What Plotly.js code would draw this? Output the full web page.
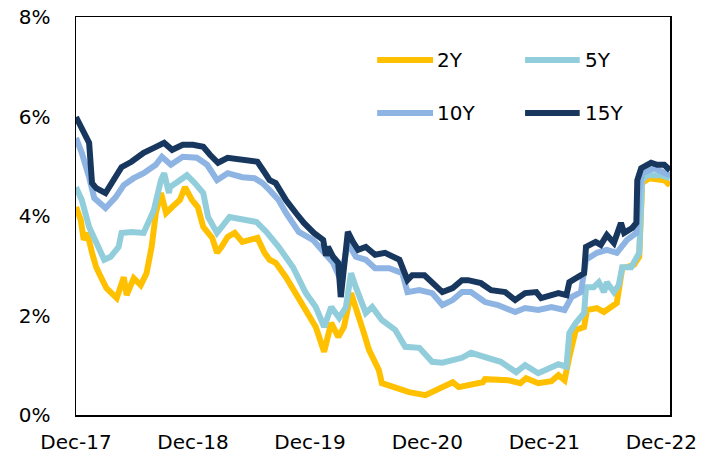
<!DOCTYPE html>
<html>
<head>
<meta charset="utf-8">
<script src="https://cdn.plot.ly/plotly-3.0.1.min.js"></script>
<style>html,body{margin:0;padding:0;background:#fff;}#chart{width:715px;height:463px;}</style>
</head>
<body>
<div id="chart"></div>
<script>
const seriesNames = ['2Y', '5Y', '10Y', '15Y'];
const seriesColors = ['#FFC000', '#92CDDC', '#8EB4E3', '#17375E'];

const tickDates = ['2017-12-01','2018-12-01','2019-12-01','2020-12-01','2021-12-01','2022-12-01'];
const tickLabels = ['Dec-17','Dec-18','Dec-19','Dec-20','Dec-21','Dec-22'];
const yTicks = [0, 2, 4, 6, 8];

const dates2Y = ['2017-12-01','2017-12-16','2017-12-25','2018-01-05','2018-01-20','2018-02-02','2018-02-17','2018-03-06','2018-04-07','2018-04-29','2018-05-08','2018-05-30','2018-06-21','2018-07-09','2018-07-25','2018-08-07','2018-08-23','2018-09-08','2018-09-27','2018-10-21','2018-11-06','2018-11-28','2018-12-16','2019-01-02','2019-01-30','2019-02-14','2019-02-28','2019-03-19','2019-04-10','2019-05-04','2019-06-20','2019-07-12','2019-07-28','2019-08-16','2019-09-17','2019-10-18','2019-11-18','2019-12-19','2020-01-14','2020-02-05','2020-02-27','2020-03-16','2020-04-07','2020-04-22','2020-05-17','2020-06-02','2020-07-03','2020-07-12','2020-08-23','2020-10-05','2020-11-25','2021-01-08','2021-02-18','2021-03-09','2021-04-07','2021-05-23','2021-05-30','2021-08-10','2021-09-17','2021-10-05','2021-11-12','2021-12-23','2022-01-14','2022-02-02','2022-02-17','2022-03-09','2022-04-04','2022-04-13','2022-05-14','2022-06-05','2022-06-27','2022-07-15','2022-08-01','2022-09-07','2022-09-23','2022-10-02','2022-10-24','2022-12-10','2022-12-28'];
const values2Y = [4.18,3.92,3.52,3.66,3.26,2.97,2.77,2.55,2.35,2.77,2.41,2.75,2.61,2.85,3.38,4.06,4.46,4.06,4.18,4.32,4.58,4.32,4.18,3.78,3.56,3.26,3.38,3.58,3.66,3.48,3.56,3.26,3.12,3.06,2.77,2.45,2.11,1.77,1.27,1.85,1.57,1.77,2.45,2.17,1.65,1.31,0.90,0.64,0.56,0.46,0.40,0.54,0.66,0.56,0.60,0.66,0.72,0.70,0.64,0.74,0.64,0.68,0.80,0.70,1.17,1.71,1.77,2.11,2.15,2.07,2.17,2.25,2.95,3.02,3.18,4.66,4.76,4.72,4.62];

const dates5Y = ['2017-12-01','2017-12-19','2018-01-11','2018-02-02','2018-02-27','2018-03-19','2018-04-13','2018-04-22','2018-05-23','2018-06-30','2018-08-01','2018-08-23','2018-09-02','2018-09-17','2018-09-20','2018-10-21','2018-11-12','2018-12-07','2019-01-02','2019-01-17','2019-02-14','2019-03-25','2019-05-04','2019-06-17','2019-07-18','2019-08-25','2019-10-09','2019-11-18','2019-12-19','2020-01-14','2020-02-05','2020-03-01','2020-03-22','2020-04-07','2020-04-22','2020-05-23','2020-06-12','2020-07-12','2020-08-23','2020-09-23','2020-11-06','2020-12-16','2021-01-17','2021-02-18','2021-03-19','2021-04-16','2021-06-08','2021-07-18','2021-09-04','2021-10-02','2021-11-12','2021-12-23','2022-01-14','2022-02-08','2022-02-17','2022-03-09','2022-04-04','2022-04-10','2022-05-04','2022-05-20','2022-06-05','2022-06-14','2022-07-06','2022-07-21','2022-08-01','2022-08-29','2022-09-23','2022-10-02','2022-10-17','2022-11-30','2022-12-28'];
const values5Y = [4.58,4.32,3.78,3.46,3.12,3.18,3.38,3.66,3.68,3.66,4.12,4.72,4.86,4.46,4.58,4.72,4.82,4.66,4.46,3.98,3.66,3.98,3.92,3.88,3.68,3.38,2.97,2.45,2.17,1.77,2.17,1.95,2.17,2.85,2.57,2.05,2.17,1.91,1.71,1.37,1.35,1.07,1.05,1.11,1.15,1.25,1.15,1.07,0.86,1.00,0.84,0.94,1.02,0.97,1.65,1.85,2.05,2.57,2.57,2.67,2.47,2.67,2.47,2.61,2.97,2.97,3.26,4.72,4.82,4.82,4.76];

const dates10Y = ['2017-12-01','2017-12-19','2018-01-11','2018-01-27','2018-03-03','2018-04-04','2018-04-29','2018-05-30','2018-06-30','2018-08-07','2018-08-26','2018-09-23','2018-10-30','2018-12-13','2019-01-14','2019-02-14','2019-03-19','2019-05-04','2019-06-11','2019-07-06','2019-07-28','2019-08-25','2019-09-17','2019-10-27','2019-12-10','2020-01-14','2020-02-11','2020-03-06','2020-03-28','2020-04-22','2020-05-23','2020-06-21','2020-08-04','2020-09-14','2020-09-30','2020-11-06','2020-12-16','2021-01-17','2021-02-18','2021-03-19','2021-04-16','2021-05-30','2021-07-09','2021-09-01','2021-10-02','2021-11-12','2021-12-23','2022-02-02','2022-02-24','2022-03-25','2022-04-10','2022-05-14','2022-06-14','2022-07-15','2022-08-16','2022-09-14','2022-09-23','2022-10-02','2022-11-09','2022-12-28'];
const values10Y = [5.57,5.27,4.78,4.36,4.16,4.38,4.62,4.76,4.86,5.03,5.19,5.03,5.19,5.17,5.03,4.72,4.86,4.78,4.76,4.66,4.52,4.32,4.06,3.68,3.52,3.26,3.06,2.71,3.46,3.18,3.12,2.95,2.95,2.85,2.47,2.51,2.45,2.21,2.31,2.47,2.47,2.27,2.21,2.07,2.15,2.11,2.17,2.11,2.37,2.47,3.12,3.26,3.32,3.26,3.52,3.66,4.52,4.86,4.96,4.82];

const dates15Y = ['2017-12-01','2017-12-12','2017-12-25','2018-01-11','2018-01-20','2018-02-02','2018-03-03','2018-03-28','2018-04-22','2018-05-23','2018-06-30','2018-08-01','2018-09-02','2018-09-27','2018-10-30','2018-12-01','2019-01-02','2019-01-23','2019-02-17','2019-03-19','2019-05-10','2019-06-20','2019-07-12','2019-07-28','2019-08-16','2019-09-17','2019-10-18','2019-11-12','2019-12-13','2020-01-11','2020-01-20','2020-01-26','2020-02-11','2020-02-27','2020-03-06','2020-03-16','2020-03-28','2020-04-13','2020-04-29','2020-05-23','2020-06-21','2020-07-22','2020-09-05','2020-09-30','2020-10-15','2020-11-22','2020-12-16','2021-01-17','2021-02-18','2021-03-19','2021-04-07','2021-05-17','2021-06-18','2021-08-01','2021-09-01','2021-10-02','2021-11-06','2021-11-21','2022-01-14','2022-02-08','2022-02-17','2022-03-12','2022-04-04','2022-04-10','2022-05-10','2022-05-26','2022-06-14','2022-07-06','2022-07-28','2022-08-07','2022-09-01','2022-09-14','2022-09-17','2022-09-29','2022-10-30','2022-11-18','2022-12-10','2022-12-28'];
const values15Y = [5.99,5.85,5.73,5.47,4.66,4.56,4.46,4.72,4.98,5.09,5.27,5.37,5.47,5.33,5.43,5.43,5.39,5.23,5.07,5.17,5.13,5.09,4.88,4.72,4.66,4.32,4.06,3.86,3.66,3.52,3.20,3.38,3.18,3.06,2.37,2.95,3.68,3.48,3.32,3.38,3.22,3.26,3.12,2.71,2.81,2.81,2.67,2.47,2.55,2.71,2.71,2.65,2.51,2.47,2.31,2.45,2.47,2.35,2.45,2.41,2.67,2.77,2.85,3.38,3.48,3.42,3.62,3.46,3.86,3.66,3.76,3.86,4.72,4.96,5.07,5.03,5.03,4.92];

const xData = [dates2Y, dates5Y, dates10Y, dates15Y];
const yData = [values2Y, values5Y, values10Y, values15Y];

const FONT = 'DejaVu Sans, Verdana, sans-serif';

const traces = seriesNames.map((name, i) => ({
  type: 'scatter', mode: 'lines', name: name,
  x: xData[i], y: yData[i],
  line: {color: seriesColors[i], width: 6},
  showlegend: false
}));

// manual legend (2 columns x 2 rows)
const legendPos = [
  {x0: 0.507, x1: 0.601, tx: 0.604, y: 0.892},
  {x0: 0.756, x1: 0.848, tx: 0.853, y: 0.892},
  {x0: 0.507, x1: 0.601, tx: 0.604, y: 0.759},
  {x0: 0.756, x1: 0.848, tx: 0.853, y: 0.759}
];
const shapes = seriesNames.map((n, i) => ({
  type: 'line', xref: 'paper', yref: 'paper',
  x0: legendPos[i].x0, x1: legendPos[i].x1, y0: legendPos[i].y, y1: legendPos[i].y,
  line: {color: seriesColors[i], width: 6}
}));
const annotations = seriesNames.map((n, i) => ({
  xref: 'paper', yref: 'paper', x: legendPos[i].tx, y: legendPos[i].y,
  xanchor: 'left', yanchor: 'middle', text: n, showarrow: false,
  font: {family: FONT, size: 20, color: '#000'}
}));

const layout = {
  width: 715, height: 463,
  margin: {l: 76, r: 45, t: 17, b: 48},
  paper_bgcolor: '#fff', plot_bgcolor: '#fff',
  font: {family: FONT, size: 20, color: '#000'},
  showlegend: false,
  xaxis: {
    type: 'date', range: ['2017-12-01', '2022-12-28'],
    tickmode: 'array', tickvals: tickDates, ticktext: tickLabels,
    showgrid: false, zeroline: false, ticks: '',
    showline: true, linecolor: '#000', linewidth: 1.5, mirror: true,
    ticklabelstandoff: 8
  },
  yaxis: {
    range: [0, 8], tickmode: 'array', tickvals: yTicks,
    ticktext: yTicks.map(v => v + '%'),
    showgrid: false, zeroline: false, ticks: '',
    showline: true, linecolor: '#000', linewidth: 1.5, mirror: true,
    ticklabelstandoff: 20
  },
  shapes: shapes,
  annotations: annotations
};

Plotly.newPlot('chart', traces, layout, {displayModeBar: false, staticPlot: true});
</script>
</body>
</html>
